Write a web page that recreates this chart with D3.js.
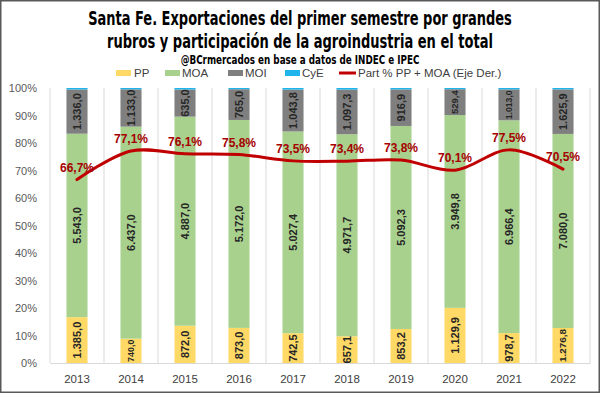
<!DOCTYPE html>
<html>
<head>
<meta charset="utf-8">
<script src="https://cdn.jsdelivr.net/npm/d3@7"></script>
<style>
  body { margin: 0; background: #fff; }
  svg { display: block; }
</style>
</head>
<body>
<div id="chart"></div>
<script>
// Data (millones USD, primer semestre)
const years = ["2013", "2014", "2015", "2016", "2017", "2018", "2019", "2020", "2021", "2022"];
const pp  = [1385.0, 740.0, 872.0, 873.0, 742.5, 657.1, 853.2, 1129.9, 978.7, 1276.8];
const moa = [5543.0, 6437.0, 4887.0, 5172.0, 5027.4, 4971.7, 5092.3, 3949.8, 6966.4, 7080.0];
const moi = [1336.0, 1133.0, 635.0, 765.0, 1043.8, 1097.3, 916.9, 529.4, 1013.0, 1625.9];
const cye = [45, 40, 35, 30, 40, 40, 35, 25, 45, 50];
const partPct = [66.7, 77.1, 76.1, 75.8, 73.5, 73.4, 73.8, 70.1, 77.5, 70.5];
const yTicks = [0, 0.1, 0.2, 0.3, 0.4, 0.5, 0.6, 0.7, 0.8, 0.9, 1];

const seriesKeys = ["PP", "MOA", "MOI", "CyE"];
const colors = {PP: "#FFD966", MOA: "#A9D18E", MOI: "#7F7F7F", CyE: "#1FB5EC"};
const lineColor = "#C00000";

const W = 600, H = 393;
const margin = {top: 88, right: 10, bottom: 30, left: 50};
const innerW = W - margin.left - margin.right;
const innerH = H - margin.top - margin.bottom;

// Build rows for the stack
const rows = years.map((y, i) => ({year: y, PP: pp[i], MOA: moa[i], MOI: moi[i], CyE: cye[i]}));
const stacked = d3.stack().keys(seriesKeys).offset(d3.stackOffsetExpand)(rows);

const svg = d3.select("#chart").append("svg")
  .attr("width", W)
  .attr("height", H);

svg.append("rect")
  .attr("x", 0.75).attr("y", 0.75)
  .attr("width", W - 1.5).attr("height", H - 1.5)
  .attr("fill", "#fff")
  .attr("stroke", "#595959")
  .attr("stroke-width", 1.5);

// Titles: condensed look via horizontal scale to the target width
const titleFont = "'Liberation Sans Narrow', 'DejaVu Sans Condensed', Arial, sans-serif";
function titleLine(txt, yPos, size, targetW) {
  const t = svg.append("text")
    .attr("text-anchor", "middle")
    .attr("font-family", titleFont)
    .attr("font-weight", "bold")
    .attr("font-size", size)
    .attr("fill", "#000")
    .text(txt);
  const len = t.node().getComputedTextLength();
  const k = Math.min(1, targetW / len);
  t.attr("transform", `translate(${W / 2},${yPos}) scale(${k},1)`);
}
titleLine("Santa Fe. Exportaciones del primer semestre por grandes", 25, 20, 424);
titleLine("rubros y participación de la agroindustria en el total", 48, 20, 386);
titleLine("@BCrmercados en base a datos de INDEC e IPEC", 64, 11.5, 239);

// Legend
const legendY = 73;
const legendFont = "'Liberation Sans', Arial, sans-serif";
const legendItems = [
  {key: "PP", x: 116, tx: 134},
  {key: "MOA", x: 165, tx: 182},
  {key: "MOI", x: 228, tx: 245},
  {key: "CyE", x: 285, tx: 302}
];
const legend = svg.append("g").attr("class", "legend");
legendItems.forEach(d => {
  legend.append("rect")
    .attr("x", d.x).attr("y", legendY - 3)
    .attr("width", 15).attr("height", 6)
    .attr("fill", colors[d.key]);
  legend.append("text")
    .attr("x", d.tx).attr("y", legendY + 4)
    .attr("font-family", legendFont)
    .attr("font-size", 11.5)
    .attr("fill", "#404040")
    .text(d.key);
});
legend.append("line")
  .attr("x1", 339).attr("x2", 356)
  .attr("y1", legendY).attr("y2", legendY)
  .attr("stroke", lineColor).attr("stroke-width", 3);
legend.append("text")
  .attr("x", 358).attr("y", legendY + 4)
  .attr("font-family", legendFont)
  .attr("font-size", 11.5)
  .attr("fill", "#404040")
  .text("Part % PP + MOA (Eje Der.)");

const g = svg.append("g").attr("transform", `translate(${margin.left},${margin.top})`);

// Scales
const x = d3.scaleBand().domain(years).range([0, innerW]).paddingInner(0.61).paddingOuter(0.305);
const y = d3.scaleLinear().domain([0, 1]).range([innerH, 0]);
const y2 = d3.scaleLinear().domain([0, 100]).range([innerH, 0]);
const step = x.step();

// Vertical category gridlines
g.append("g").selectAll("line")
  .data(d3.range(years.length + 1))
  .join("line")
  .attr("x1", i => i * step).attr("x2", i => i * step)
  .attr("y1", 0).attr("y2", innerH)
  .attr("stroke", "#D9D9D9").attr("stroke-width", 1);

// Y axis (left)
const yAxis = g.append("g")
  .call(d3.axisLeft(y).tickValues(yTicks).tickFormat(d3.format(".0%")).tickSize(0).tickPadding(13));
yAxis.select(".domain").remove();
yAxis.selectAll("text")
  .attr("font-family", legendFont)
  .attr("font-size", 11)
  .attr("fill", "#595959");

// X axis
const xAxis = g.append("g")
  .attr("transform", `translate(0,${innerH})`)
  .call(d3.axisBottom(x).tickSize(0).tickPadding(12));
xAxis.select(".domain").attr("stroke", "#D9D9D9");
xAxis.selectAll("text")
  .attr("font-family", legendFont)
  .attr("font-size", 11.5)
  .attr("fill", "#404040");

// Bars
const layers = g.append("g").selectAll("g.layer")
  .data(stacked)
  .join("g")
  .attr("class", "layer")
  .attr("fill", d => colors[d.key]);

layers.selectAll("rect")
  .data(d => d)
  .join("rect")
  .attr("x", d => x(d.data.year))
  .attr("width", x.bandwidth())
  .attr("y", d => y(d[1]))
  .attr("height", d => y(d[0]) - y(d[1]));

// Bar value labels (rotated)
const fmt = v => d3.format(",.1f")(v).replace(/,/g, "#").replace(/\./g, ",").replace(/#/g, ".");
const labelLayer = g.append("g");
stacked.filter(s => s.key !== "CyE").forEach(s => {
  s.forEach(d => {
    const cx = x(d.data.year) + x.bandwidth() / 2;
    const cy = (y(d[0]) + y(d[1])) / 2;
    const segH = y(d[0]) - y(d[1]);
    const t = labelLayer.append("text")
      .attr("transform", `translate(${cx},${cy}) rotate(-90)`)
      .attr("text-anchor", "middle")
      .attr("dy", "0.35em")
      .attr("font-family", legendFont)
      .attr("font-weight", "bold")
      .attr("font-size", 11)
      .attr("fill", "#262626")
      .text(fmt(d.data[s.key]));
    const len = t.node().getComputedTextLength();
    if (len > segH + 1) {
      t.attr("font-size", Math.max(8, 11 * (segH - 2) / len));
    }
  });
});

// Participation line (secondary axis, 0-100)
const line = d3.line()
  .x((d, i) => x(years[i]) + x.bandwidth() / 2)
  .y(d => y2(d))
  .curve(d3.curveCatmullRom.alpha(0.5));

g.append("path")
  .datum(partPct)
  .attr("fill", "none")
  .attr("stroke", lineColor)
  .attr("stroke-width", 3)
  .attr("stroke-linecap", "round")
  .attr("d", line);

g.append("g").selectAll("text")
  .data(partPct)
  .join("text")
  .attr("x", (d, i) => x(years[i]) + x.bandwidth() / 2)
  .attr("y", d => y2(d) - 8)
  .attr("text-anchor", "middle")
  .attr("font-family", legendFont)
  .attr("font-weight", "bold")
  .attr("font-size", 12)
  .attr("fill", "#A50000")
  .text(d => d3.format(".1f")(d).replace(".", ",") + "%");
</script>
</body>
</html>
